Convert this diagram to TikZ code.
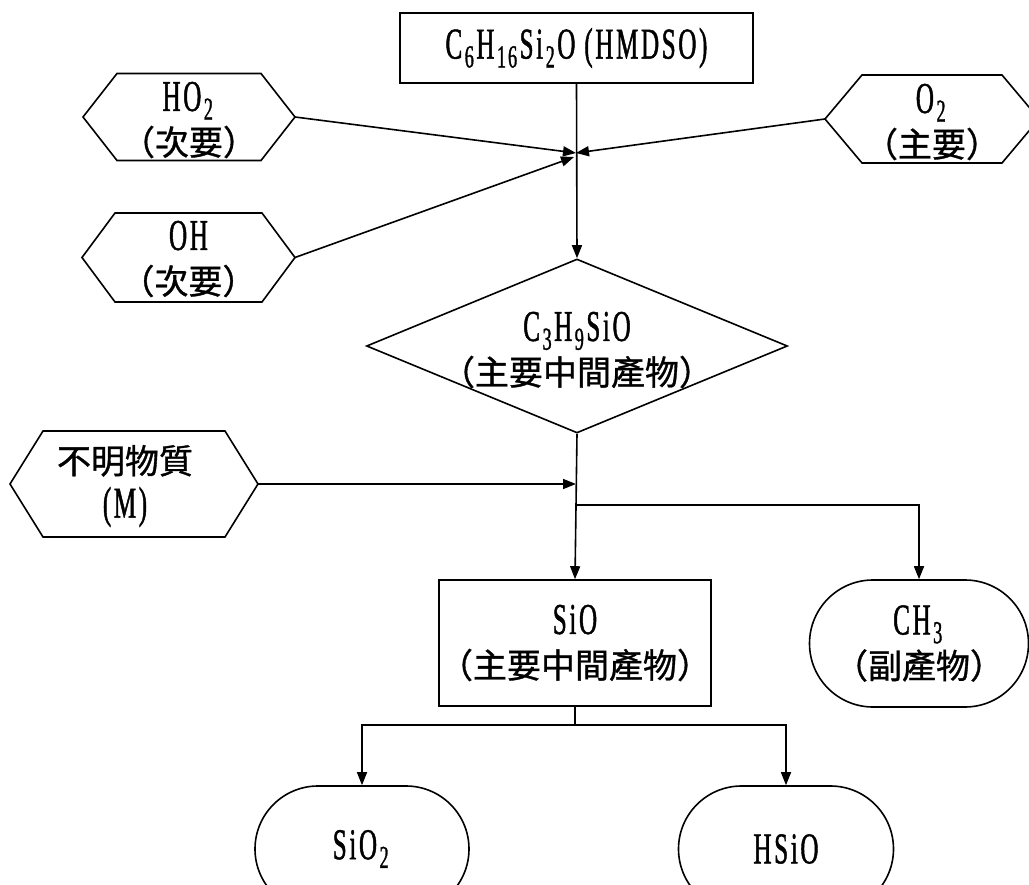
\documentclass[tikz,border=0pt]{standalone}
\usepackage{fontspec}
\setmainfont{Liberation Serif}[FakeStretch=0.57,FakeBold=1,LetterSpace=6]
\newfontfamily\cjk{Noto Sans CJK TC}[FakeBold=1]
\usetikzlibrary{shapes.geometric,shapes.misc,arrows.meta}
\newcommand\sbs[1]{\kern2.5pt\raisebox{-0.2em}{\fontsize{32}{32}\selectfont #1}\kern2.5pt}
\newcommand\zh[1]{{\cjk\fontsize{34}{44}\selectfont #1}}
% hexagon: centre x, centre y, half width, half height, slant
\newcommand\hexag[5]{%
  \draw (#1-#3,#2) -- (#1-#3+#5,#2-#4) -- (#1+#3-#5,#2-#4) -- (#1+#3,#2)
        -- (#1+#3-#5,#2+#4) -- (#1-#3+#5,#2+#4) -- cycle;}
\begin{document}
\begin{tikzpicture}[x=1pt,y=-1pt,line width=1.6pt,
  font=\fontsize{44}{44}\selectfont,
  box/.style={draw,rectangle,inner sep=0pt,align=center},
  lab/.style={inner sep=0pt,align=center},
  capsule/.style={draw,rounded rectangle,inner sep=0pt,align=center},
  arr/.style={-{Triangle[length=13pt,width=10pt]}}]
\useasboundingbox (0,0) rectangle (1029,885);
\clip (0,0) rectangle (1029,885);

% top box
\node[box,minimum width=353,minimum height=70] (hmdso) at (576.5,48)
  {C\sbs{6}H\sbs{16}Si\sbs{2}O (HMDSO)};

% hexagons
\hexag{189}{117}{106}{43.5}{34}
\node[lab] (ho2) at (189,120) {HO\sbs{2}\\\zh{（次要）}};
\coordinate (ho2e) at (295,117);

\hexag{188.5}{257.5}{106.5}{44.5}{33}
\node[lab] (oh) at (188.5,259) {OH\\\zh{（次要）}};
\coordinate (ohe) at (295,257.5);

\hexag{932}{119}{107}{44}{37}
\node[lab] (o2) at (932,122) {O\sbs{2}\\\zh{（主要）}};
\coordinate (o2w) at (825,119);

\hexag{134}{484}{124}{53}{33}
\node[lab] (m) at (125,486) {\zh{不明物質}\\(M)};
\coordinate (me) at (258,484);

% diamond
\node[draw,diamond,aspect=2.42,minimum width=421,minimum height=174,inner sep=0pt] (c3) at (577,346) {};
\node[lab] (c3t) at (577,350) {C\sbs{3}H\sbs{9}SiO\\\zh{（主要中間產物）}};

% SiO box and products
\node[box,minimum width=265,minimum height=126] (sio) at (575,643)
  {SiO\\\zh{（主要中間產物）}};
\node[capsule,minimum width=219,minimum height=127] (ch3) at (919,643.5)
  {CH\sbs{3}\\\zh{（副產物）}};
\node[capsule,minimum width=214,minimum height=126] (sio2) at (362,849) {SiO\sbs{2}};
\node[capsule,minimum width=215,minimum height=126] (hsio) at (786,849) {HSiO};

% junctions
\coordinate (j1) at (576,153);
\coordinate (j2) at (574,157);
\coordinate (j3) at (576,484);
\coordinate (j4) at (576,505);
\coordinate (j5) at (575,725);

% connectors
\draw[arr] (hmdso.south) -- (c3.north);
\draw[arr] (ho2e) -- (j1);
\draw[arr] (o2w) -- (j1);
\draw[arr] (ohe) -- (j2);
\draw[arr] (c3.south) -- (sio.north);
\draw[arr] (me) -- (j3);
\draw[arr] (j4) -| (ch3.north);
\draw (sio.south) -- (j5);
\draw[arr] (j5) -| (sio2.north);
\draw[arr] (j5) -| (hsio.north);
\end{tikzpicture}
\end{document}
